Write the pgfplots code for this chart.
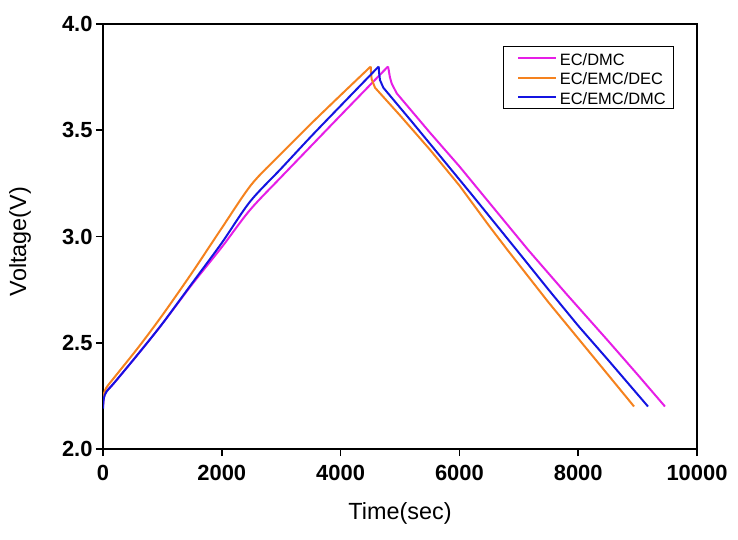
\documentclass[border=0pt]{standalone}
\usepackage{fontspec}
\setmainfont{Liberation Sans}
\usepackage{pgfplots}
\pgfplotsset{compat=1.18}
\definecolor{cmag}{RGB}{230,30,230}
\definecolor{corg}{RGB}{245,130,30}
\definecolor{cblu}{RGB}{20,20,225}
\begin{document}
\begin{tikzpicture}
\path (0bp,0bp) rectangle (738bp,540bp);
\begin{axis}[
  scale only axis, width=594bp, height=425bp,
  at={(103bp,91bp)}, anchor=south west,
  xmin=0, xmax=10000, ymin=2, ymax=4,
  xtick={0,2000,4000,6000,8000,10000},
  ytick={2,2.5,3,3.5,4},
  scaled x ticks=false,
  axis line style={line width=2bp},
  tick style={line width=1.6bp, black},
  major tick length=7bp,
  tick align=outside, xtick pos=bottom, ytick pos=left,
  /pgf/number format/assume math mode=true,
  xticklabel style={font=\fontsize{22}{26}\selectfont\bfseries, /pgf/number format/1000 sep={}, yshift=-6bp},
  yticklabel style={font=\fontsize{22}{26}\selectfont\bfseries, /pgf/number format/fixed, /pgf/number format/fixed zerofill, /pgf/number format/precision=1},
  xlabel={Time(sec)}, ylabel={Voltage(V)},
  xlabel style={font=\fontsize{23.5}{27}\selectfont, at={(axis description cs:0.5,-0.152)}, anchor=center},
  ylabel style={font=\fontsize{23.5}{27}\selectfont, at={(axis description cs:-0.1397,0.488)}, anchor=center},
  legend style={at={(0.673,0.948)}, anchor=north west, draw=black, line width=1.2bp,
    font=\fontsize{16.5}{19}\selectfont, inner xsep=5.5bp, inner ysep=2.5bp,
    /tikz/row sep=1.7bp,
    nodes={text height=14.8bp, text depth=0bp, inner xsep=2.5bp, inner ysep=1.5bp}},
  legend cell align=left,
  legend image code/.code={\path (0bp,0bp); \draw[#1] (8.5bp,0bp) -- (46.5bp,0bp);},
]
\addplot[cmag, line width=2bp, smooth, tension=0.5] coordinates {
(0,2.20) (15,2.245) (60,2.272) (200,2.315) (600,2.45) (1000,2.59) (1500,2.775) (2000,2.95) (2475,3.125) (3000,3.28) (3500,3.425) (4000,3.57) (4798,3.80)
};
\addlegendentry{EC/DMC}
\addplot[cmag, line width=2bp, forget plot] coordinates {
(4798,3.80) (4812,3.78) (4830,3.75) (4860,3.72) (4944,3.674) (5500,3.49) (6000,3.33) (6500,3.16) (7160,2.936) (7800,2.73) (8500,2.51) (9000,2.35) (9461,2.20)
};
\addplot[corg, line width=2bp, smooth, tension=0.5] coordinates {
(0,2.21) (15,2.26) (60,2.29) (200,2.34) (600,2.48) (1000,2.63) (1500,2.83) (2000,3.04) (2500,3.245) (3000,3.39) (3500,3.53) (4000,3.665) (4507,3.80)
};
\addlegendentry{EC/EMC/DEC}
\addplot[corg, line width=2bp, forget plot] coordinates {
(4507,3.80) (4512,3.77) (4523,3.74) (4580,3.70) (5000,3.57) (5500,3.41) (6000,3.24) (6500,3.05) (6800,2.94) (7500,2.69) (8000,2.52) (8500,2.35) (8940,2.20)
};
\addplot[cblu, line width=2bp, smooth, tension=0.5] coordinates {
(0,2.19) (15,2.24) (60,2.27) (200,2.315) (600,2.45) (1000,2.59) (1500,2.78) (2000,2.97) (2475,3.164) (3000,3.32) (3500,3.47) (4000,3.615) (4641,3.80)
};
\addlegendentry{EC/EMC/DMC}
\addplot[cblu, line width=2bp, forget plot] coordinates {
(4641,3.80) (4648,3.77) (4663,3.736) (4720,3.70) (5200,3.54) (5700,3.37) (6200,3.20) (6965,2.936) (7500,2.75) (8000,2.58) (8500,2.42) (9175,2.20)
};
\end{axis}
\end{tikzpicture}
\end{document}
